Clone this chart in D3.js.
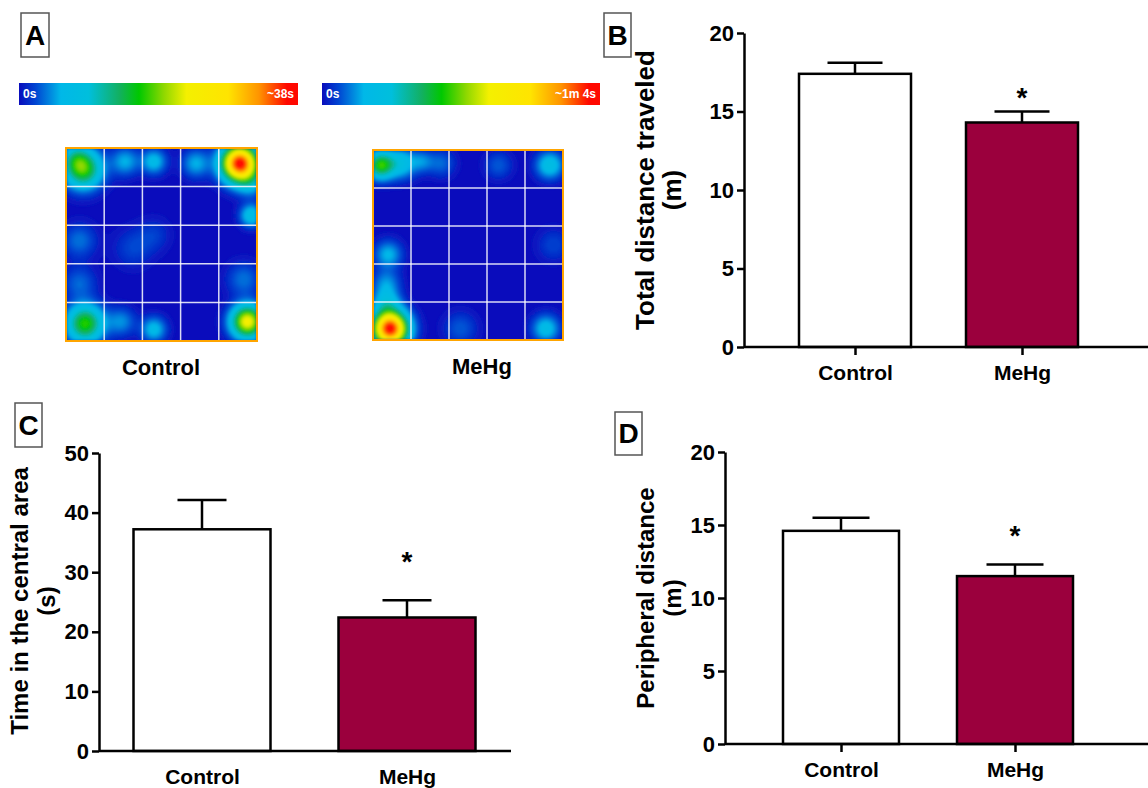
<!DOCTYPE html>
<html>
<head>
<meta charset="utf-8">
<style>
  body { margin: 0; background: #fff; }
  text { font-family: "Liberation Sans", Arial, Helvetica, sans-serif; font-weight: bold; }
</style>
<script src="https://d3js.org/d3.v7.min.js"></script>
</head>
<body>
<div id="chart"></div>
<script>

// ---- data ----
var groups = ["Control", "MeHg"];

var totalDist    = [17.4, 14.3];   // panel B, m
var totalDistErr = [0.7, 0.7];
var centralTime    = [37.2, 22.4]; // panel C, s
var centralTimeErr = [4.9, 2.9];
var periphDist    = [14.6, 11.5];  // panel D, m
var periphDistErr = [0.9, 0.8];

var ticksB = [0, 5, 10, 15, 20];
var ticksC = [0, 10, 20, 30, 40, 50];
var ticksD = [0, 5, 10, 15, 20];

var heatLabels = ["~38s", "~1m 4s"];

// occupancy hot spots in the open field, [x, y, level, spread] (arena fraction)
var spotsControl = [
  [0.09, 0.11, 0.46, 0.068], [0.05, 0.05, 0.16, 0.05],  [0.91, 0.08, 1.00, 0.065],
  [0.10, 0.91, 0.46, 0.066], [0.95, 0.90, 0.64, 0.058], [0.97, 0.35, 0.22, 0.04],
  [0.31, 0.07, 0.15, 0.05],  [0.46, 0.07, 0.18, 0.045], [0.68, 0.08, 0.15, 0.05],
  [0.46, 0.94, 0.18, 0.045], [0.29, 0.90, 0.12, 0.05],  [0.07, 0.48, 0.10, 0.06],
  [0.07, 0.70, 0.09, 0.06],  [0.93, 0.68, 0.10, 0.06],  [0.35, 0.52, 0.06, 0.07],
  [0.46, 0.45, 0.05, 0.06],  [0.97, 0.18, 0.13, 0.05]
];
var spotsMeHg = [
  [0.04, 0.08, 0.45, 0.048], [0.15, 0.07, 0.20, 0.055], [0.93, 0.08, 0.21, 0.05],
  [0.08, 0.55, 0.16, 0.05],  [0.07, 0.70, 0.12, 0.05],  [0.09, 0.94, 1.00, 0.064],
  [0.07, 0.80, 0.17, 0.05],  [0.91, 0.94, 0.19, 0.05],  [0.36, 0.07, 0.09, 0.05],
  [0.66, 0.08, 0.08, 0.05],  [0.46, 0.94, 0.08, 0.06],  [0.95, 0.50, 0.06, 0.06],
  [0.26, 0.06, 0.10, 0.04]
];

// ---- setup ----
var W = 1148, H = 788;
var svg = d3.select("#chart").append("svg")
    .attr("width", W).attr("height", H);

var heatStops = [0, 0.06, 0.15, 0.25, 0.36, 0.43, 0.52, 0.6, 0.75, 0.86, 0.96];
var heatCols  = ["#0a0cbc", "#0046d2", "#00b8e8", "#00bfdc", "#12b060", "#00c800",
                 "#90d800", "#f4f000", "#ffe400", "#ff9400", "#ff0800"];
var heatColor = d3.scaleLinear().domain(heatStops).range(heatCols).clamp(true);

var defs = svg.append("defs");
defs.append("filter").attr("id", "soft")
  .attr("x", "-5%").attr("y", "-5%").attr("width", "110%").attr("height", "110%")
  .append("feGaussianBlur").attr("stdDeviation", 1.6);

function panelLabel(letter, x, y, w, h) {
  svg.append("rect").attr("x", x).attr("y", y).attr("width", w).attr("height", h)
     .attr("fill", "#fff").attr("stroke", "#555").attr("stroke-width", 1.5);
  svg.append("text").attr("x", x + w / 2).attr("y", y + h / 2)
     .attr("text-anchor", "middle").attr("dominant-baseline", "central")
     .attr("font-size", 28).text(letter);
}

function colorBar(id, x, y, w, h, maxLabel) {
  var g = defs.append("linearGradient").attr("id", id);
  g.selectAll("stop").data(heatStops).enter().append("stop")
    .attr("offset", function(d) { return d; })
    .attr("stop-color", function(d) { return heatColor(d); });
  svg.append("rect").attr("x", x).attr("y", y).attr("width", w).attr("height", h)
     .attr("fill", "url(#" + id + ")");
  svg.append("text").attr("x", x + 4).attr("y", y + h / 2 + 4)
     .attr("fill", "#fff").attr("font-size", 12).text("0s");
  svg.append("text").attr("x", x + w - 4).attr("y", y + h / 2 + 4)
     .attr("text-anchor", "end").attr("fill", "#fff").attr("font-size", 12).text(maxLabel);
}

function heatMap(id, spots, x, y, w, h, label, labelX) {
  var n = 120;
  var values = new Array(n * n);
  for (var j = 0; j < n; j++) {
    for (var i = 0; i < n; i++) {
      var px = (i + 0.5) / n, py = (j + 0.5) / n, v = 0;
      spots.forEach(function(s) {
        var dx = px - s[0], dy = py - s[1];
        v += s[2] * Math.exp(-(dx * dx + dy * dy) / (2 * s[3] * s[3]));
      });
      values[j * n + i] = Math.min(1, v);
    }
  }
  var levels = d3.range(0.01, 1.0, 0.01);
  var contours = d3.contours().size([n, n]).thresholds(levels)(values);

  defs.append("clipPath").attr("id", id + "clip")
    .append("rect").attr("x", 0).attr("y", 0).attr("width", w).attr("height", h);

  var g = svg.append("g").attr("transform", "translate(" + x + "," + y + ")");
  var inner = g.append("g").attr("clip-path", "url(#" + id + "clip)");
  inner.append("rect").attr("width", w).attr("height", h).attr("fill", heatColor(0));
  var path = d3.geoPath(d3.geoIdentity().scale(w / n));
  inner.append("g").attr("filter", "url(#soft)")
    .selectAll("path.band").data(contours).enter().append("path")
    .attr("class", "band")
    .attr("d", path)
    .attr("transform", "scale(1," + (h / w) + ")")
    .attr("fill", function(d) { return heatColor(d.value); });

  var cells = d3.range(1, 5);
  var gx = d3.scaleLinear().domain([0, 5]).range([0, w]);
  var gy = d3.scaleLinear().domain([0, 5]).range([0, h]);
  g.selectAll("line.v").data(cells).enter().append("line")
    .attr("x1", gx).attr("x2", gx).attr("y1", 0).attr("y2", h)
    .attr("stroke", "#fff").attr("stroke-opacity", 0.85).attr("stroke-width", 1.5);
  g.selectAll("line.h").data(cells).enter().append("line")
    .attr("y1", gy).attr("y2", gy).attr("x1", 0).attr("x2", w)
    .attr("stroke", "#fff").attr("stroke-opacity", 0.85).attr("stroke-width", 1.5);
  g.append("rect").attr("width", w).attr("height", h)
    .attr("fill", "none").attr("stroke", "#ffa500").attr("stroke-width", 2);

  svg.append("text").attr("x", labelX).attr("y", y + h + 34)
     .attr("text-anchor", "middle").attr("font-size", 22).text(label);
}

function barPanel(cfg) {
  var y = d3.scaleLinear().domain([0, cfg.ymax]).range([cfg.y0, cfg.y1]);
  var x = d3.scalePoint().domain(groups).range(cfg.centers);
  var g = svg.append("g");

  // bars
  g.selectAll("rect.bar").data(cfg.values).enter().append("rect")
    .attr("x", function(d, i) { return x(groups[i]) - cfg.barW / 2; })
    .attr("y", function(d) { return y(d); })
    .attr("width", cfg.barW)
    .attr("height", function(d) { return cfg.y0 - y(d); })
    .attr("fill", function(d, i) { return i === 0 ? "#ffffff" : "#9b003d"; })
    .attr("stroke", "#000").attr("stroke-width", 2.5);

  // error bars (upper half)
  g.selectAll("line.err").data(cfg.values).enter().append("line")
    .attr("x1", function(d, i) { return x(groups[i]); })
    .attr("x2", function(d, i) { return x(groups[i]); })
    .attr("y1", function(d) { return y(d); })
    .attr("y2", function(d, i) { return y(d + cfg.errs[i]); })
    .attr("stroke", "#000").attr("stroke-width", 2.5);
  g.selectAll("line.cap").data(cfg.values).enter().append("line")
    .attr("x1", function(d, i) { return x(groups[i]) - cfg.capW / 2; })
    .attr("x2", function(d, i) { return x(groups[i]) + cfg.capW / 2; })
    .attr("y1", function(d, i) { return y(d + cfg.errs[i]); })
    .attr("y2", function(d, i) { return y(d + cfg.errs[i]); })
    .attr("stroke", "#000").attr("stroke-width", 2.5);

  // significance star over MeHg
  var mi = 1;
  g.append("text")
    .attr("x", x(groups[mi]))
    .attr("y", y(cfg.values[mi] + cfg.errs[mi]) - cfg.starGap + 15)
    .attr("text-anchor", "middle").attr("font-size", 28).text("*");

  // y axis
  var ya = g.append("g").attr("transform", "translate(" + cfg.x0 + ",0)")
    .call(d3.axisLeft(y).tickValues(cfg.ticks).tickSize(7).tickSizeOuter(0).tickPadding(3));
  ya.select(".domain").attr("stroke-width", 2.5);
  ya.selectAll(".tick line").attr("stroke-width", 2.5);
  ya.selectAll(".tick text").attr("font-size", 22).attr("font-family", null).attr("fill", "#000");

  // x axis
  var xa = g.append("g").attr("transform", "translate(0," + cfg.y0 + ")")
    .call(d3.axisBottom(x).tickSize(cfg.xTicks ? 8 : 0).tickSizeOuter(0).tickPadding(cfg.xTicks ? 10 : 18));
  xa.select(".domain").attr("d", "M" + cfg.x0 + ",0H" + cfg.xEnd).attr("stroke-width", 2.5);
  xa.selectAll(".tick line").attr("stroke-width", 2.5);
  xa.selectAll(".tick text").attr("font-size", 21).attr("font-family", null).attr("fill", "#000");

  // y title
  var tt = g.append("text").attr("font-size", cfg.titleSize).attr("text-anchor", "middle");
  tt.append("tspan").attr("x", 0).attr("y", 0).text(cfg.title[0]);
  tt.append("tspan").attr("x", 0).attr("y", cfg.titleGap).text(cfg.title[1]);
  tt.attr("transform", "translate(" + cfg.titleX + "," + cfg.titleY + ") rotate(-90)");
}

// ---- panel A ----
panelLabel("A", 21, 13, 28, 44);
colorBar("cbar1", 19, 83, 279, 22, heatLabels[0]);
colorBar("cbar2", 322, 83, 278, 22, heatLabels[1]);
heatMap("hm1", spotsControl, 66, 148, 191, 193, groups[0], 161);
heatMap("hm2", spotsMeHg, 373, 150, 190, 190, groups[1], 482);

// ---- panel B ----
panelLabel("B", 604, 13, 27, 44);
barPanel({
  values: totalDist, errs: totalDistErr, ticks: ticksB, ymax: 20,
  y0: 347, y1: 33, x0: 744, xEnd: 1148, centers: [855, 1022],
  barW: 112, capW: 55, starGap: 20, xTicks: true,
  title: ["Total distance traveled", "(m)"], titleSize: 26,
  titleX: 654, titleY: 190, titleGap: 27
});

// ---- panel C ----
panelLabel("C", 15, 403, 27, 44);
barPanel({
  values: centralTime, errs: centralTimeErr, ticks: ticksC, ymax: 50,
  y0: 751, y1: 453, x0: 99, xEnd: 511, centers: [202, 407],
  barW: 137, capW: 49, starGap: 44, xTicks: false,
  title: ["Time in the central area", "(s)"], titleSize: 24,
  titleX: 28, titleY: 601, titleGap: 27
});

// ---- panel D ----
panelLabel("D", 615, 412, 27, 43);
barPanel({
  values: periphDist, errs: periphDistErr, ticks: ticksD, ymax: 20,
  y0: 744, y1: 452, x0: 725, xEnd: 1148, centers: [841, 1015],
  barW: 116, capW: 57, starGap: 34, xTicks: true,
  title: ["Peripheral distance", "(m)"], titleSize: 24,
  titleX: 654, titleY: 598, titleGap: 27
});

</script>
</body>
</html>
